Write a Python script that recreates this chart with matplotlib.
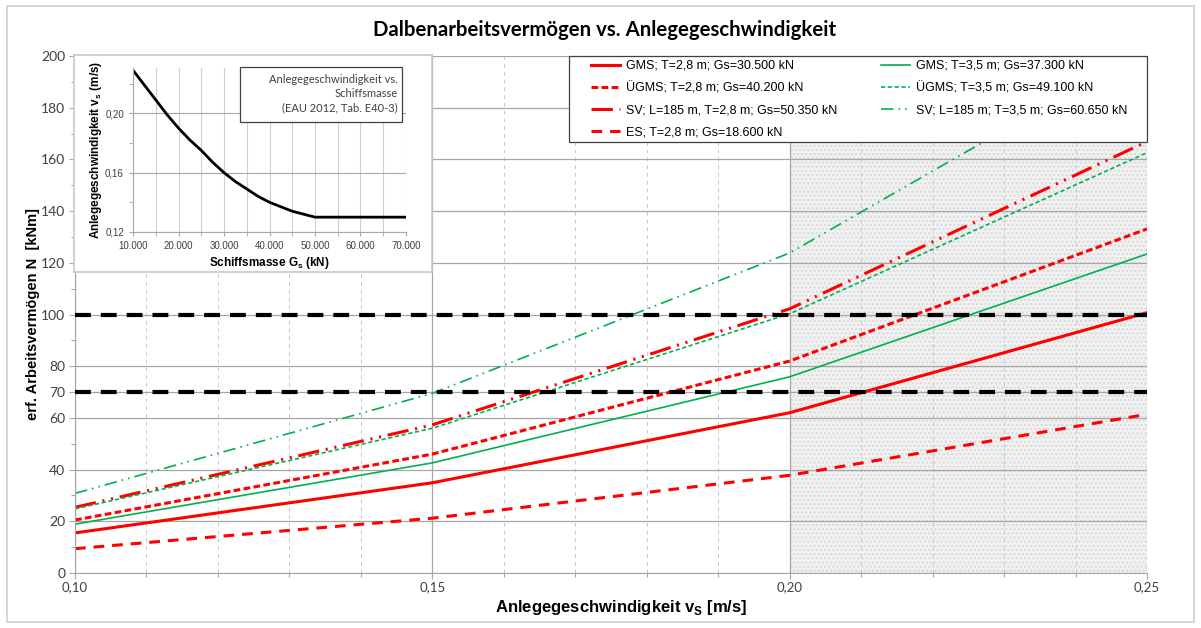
import matplotlib
matplotlib.use("Agg")
import matplotlib.pyplot as plt
from matplotlib.ticker import FixedLocator, MultipleLocator, FuncFormatter
from matplotlib.patches import Rectangle

# main chart data: Anlegegeschwindigkeit vs. erf. Arbeitsvermoegen
v_s = [0.10, 0.15, 0.20, 0.25]
gms_28 = [15.5, 34.9, 62.0, 100.7]
gms_35 = [18.9, 42.6, 75.9, 123.4]
ugms_28 = [20.5, 46.0, 82.0, 133.1]
ugms_35 = [24.8, 56.0, 100.3, 162.6]
sv_28 = [25.4, 57.3, 102.2, 166.9]
sv_35 = [30.8, 69.5, 123.8, 203.0]
es_28 = [9.4, 21.2, 37.8, 61.4]
limits = [100, 70]

# inset data: Anlegegeschwindigkeit vs. Schiffsmasse (EAU 2012)
g_s = [10000, 12500, 15000, 17500, 20000, 22500, 25000, 27500, 30000, 32500,
       35000, 37500, 40000, 42500, 45000, 47500, 50000, 70000]
v_inset = [0.229, 0.219, 0.209, 0.199, 0.190, 0.182, 0.175, 0.167, 0.160, 0.154,
           0.149, 0.144, 0.140, 0.137, 0.134, 0.132, 0.130, 0.130]

y_ticks = [0, 20, 40, 60, 70, 80, 100, 120, 140, 160, 180, 200]

RED = "#ff0000"
GREEN = "#00b050"
GRID = "#a6a6a6"
TXT = "#404040"
W, H = 1201, 628

fig = plt.figure(figsize=(12.01, 6.28), dpi=100)
fig.patches.append(Rectangle((7 / W, 6 / H), 1187 / W, 616 / H,
                             transform=fig.transFigure, fill=False,
                             edgecolor="#d0d0d0", lw=1.2))

ax = fig.add_axes([75 / W, 1 - 573 / H, 1072 / W, 517 / H])

# shaded area 0,20 - 0,25
ax.axvspan(0.20, 0.25, facecolor="#f1f1f1", edgecolor="#d8d8d8", hatch="....",
           lw=0, zorder=0.3)

ax.plot(v_s, gms_28, color=RED, lw=2.2, label="GMS; T=2,8 m; Gs=30.500 kN")
ax.plot(v_s, ugms_28, color=RED, lw=2.2, dashes=(2.2, 1.1),
        label="ÜGMS; T=2,8 m; Gs=40.200 kN")
ax.plot(v_s, sv_28, color=RED, lw=2.2, dashes=(7, 2.2, 0.7, 2.2, 0.7, 2.2),
        label="SV; L=185 m, T=2,8 m; Gs=50.350 kN")
ax.plot(v_s, es_28, color=RED, lw=2.2, dashes=(3.5, 2.6),
        label="ES; T=2,8 m; Gs=18.600 kN")
ax.plot(v_s, gms_35, color=GREEN, lw=1.2, label="GMS; T=3,5 m; Gs=37.300 kN")
ax.plot(v_s, ugms_35, color=GREEN, lw=1.2, dashes=(2.5, 1.6),
        label="ÜGMS; T=3,5 m; Gs=49.100 kN")
ax.plot(v_s, sv_35, color=GREEN, lw=1.2, dashes=(7.5, 3, 1, 3, 1, 3),
        label="SV; L=185 m; T=3,5 m; Gs=60.650 kN")

for lim in limits:
    ax.axhline(lim, color="black", lw=3, dashes=(3.8, 2.4), zorder=3)

ax.set_xlim(0.10, 0.25)
ax.set_ylim(0, 200)
ax.xaxis.set_major_locator(MultipleLocator(0.05))
ax.xaxis.set_minor_locator(MultipleLocator(0.01))
ax.yaxis.set_major_locator(FixedLocator(y_ticks))
ax.yaxis.set_minor_locator(MultipleLocator(10))
ax.xaxis.set_major_formatter(FuncFormatter(lambda v, p: f"{v:.2f}".replace(".", ",")))
ax.set_axisbelow(True)
ax.grid(which="major", color=GRID, lw=0.9)
ax.grid(which="minor", axis="x", color="#c8c8c8", lw=0.7, dashes=(4, 4))
ax.tick_params(which="both", direction="out", color=GRID, labelcolor=TXT)
ax.tick_params(which="major", length=4, width=0.8)
ax.tick_params(which="minor", length=3, width=0.8)
ax.tick_params(axis="y", labelsize=10, pad=3)
ax.tick_params(axis="x", labelsize=9.5, pad=2)
for lbl in ax.get_xticklabels() + ax.get_yticklabels():
    lbl.set_family("Lato")
for s in ["top", "right"]:
    ax.spines[s].set_visible(False)
for s in ["left", "bottom"]:
    ax.spines[s].set_color(GRID)

ax.set_ylabel("erf. Arbeitsvermögen N  [kNm]", fontsize=10.5, fontweight="bold",
              family="Liberation Sans")
ax.yaxis.set_label_coords(-0.033, 0.5)
ax.set_xlabel("Anlegegeschwindigkeit v$_\\mathregular{S}$ [m/s]", fontsize=12,
              fontweight="bold", family="Liberation Sans")
ax.xaxis.set_label_coords(0.51, -0.048)
fig.text(605 / W, 1 - 30 / H, "Dalbenarbeitsvermögen vs. Anlegegeschwindigkeit",
         ha="center", va="center", fontsize=14.7, fontweight="bold", family="Lato")

# legend: frame drawn separately so that its size matches the original box
ax.add_patch(Rectangle((569 / W, 1 - 142 / H), 578 / W, 86 / H,
                       transform=fig.transFigure, facecolor="white",
                       edgecolor="#404040", lw=0.9, zorder=5, clip_on=False))
leg = ax.legend(ncol=2, loc="upper left", frameon=False,
                bbox_to_anchor=(591 / W, 1 - 60 / H),
                bbox_transform=fig.transFigure, borderaxespad=0, borderpad=0,
                prop={"family": "Liberation Sans", "size": 9},
                handlelength=2.3, labelspacing=0.8, handletextpad=0.5,
                columnspacing=3.5)
leg.set_zorder(6)

# inset frame and inset chart
box = fig.add_axes([74 / W, 1 - 272 / H, 358 / W, 217 / H])
box.set_xticks([])
box.set_yticks([])
for s in box.spines.values():
    s.set_color("#c8c8c8")
    s.set_linewidth(1.2)

ins = fig.add_axes([133 / W, 1 - 232 / H, 273 / W, 164 / H])
ins.plot(g_s, v_inset, color="black", lw=2)
ins.set_xlim(10000, 70000)
ins.set_ylim(0.12, 0.2305)
ins.xaxis.set_major_locator(MultipleLocator(10000))
ins.xaxis.set_minor_locator(MultipleLocator(5000))
ins.yaxis.set_major_locator(FixedLocator([0.12, 0.16, 0.20]))
ins.yaxis.set_minor_locator(FixedLocator([0.14, 0.18, 0.22]))
ins.xaxis.set_major_formatter(FuncFormatter(lambda v, p: f"{int(v):,}".replace(",", ".")))
ins.yaxis.set_major_formatter(FuncFormatter(lambda v, p: f"{v:.2f}".replace(".", ",")))
ins.set_axisbelow(True)
ins.grid(which="both", axis="x", color="#d0d0d0", lw=0.8)
ins.grid(which="major", axis="y", color=GRID, lw=0.8)
ins.tick_params(which="both", direction="out", color=GRID, labelcolor=TXT,
                labelsize=7, length=3)
for lbl in ins.get_xticklabels() + ins.get_yticklabels():
    lbl.set_family("Liberation Sans")
for s in ["top", "right"]:
    ins.spines[s].set_visible(False)
for s in ["left", "bottom"]:
    ins.spines[s].set_color(GRID)
ins.set_ylabel("Anlegegeschwindigkeit v$_\\mathregular{s}$ (m/s)", fontsize=8.5,
               fontweight="bold", family="Liberation Sans")
ins.yaxis.set_label_coords(-0.105, 0.5)
ins.set_xlabel("Schiffsmasse G$_\\mathregular{s}$ (kN)", fontsize=8.5,
               fontweight="bold", family="Liberation Sans", labelpad=3)
ins.add_patch(Rectangle((0.392, 0.671), 0.593, 0.335, transform=ins.transAxes,
                        facecolor="white", edgecolor="#404040", lw=0.9,
                        clip_on=False, zorder=4))
ins.text(0.969, 0.965, "Anlegegeschwindigkeit vs.\nSchiffsmasse\n(EAU 2012, Tab. E40-3)",
         transform=ins.transAxes, ha="right", va="top", fontsize=8, family="Lato",
         color=TXT, linespacing=1.35, zorder=5)

fig.savefig("out.png", dpi=100)
